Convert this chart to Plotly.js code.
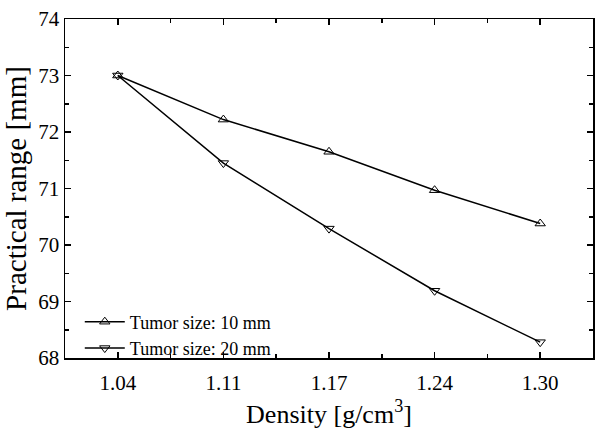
<!DOCTYPE html>
<html><head><meta charset="utf-8">
<script src="https://cdn.plot.ly/plotly-3.0.1.min.js"></script>
<style>html,body{margin:0;padding:0;background:#fff}#c{width:613px;height:435px}</style>
</head><body><div id="c"></div>
<script>
const densityLabels = ["1.04", "1.11", "1.17", "1.24", "1.30"];
const xIndex = [0, 1, 2, 3, 4];
const tumor10 = [73.0, 72.22, 71.65, 70.97, 70.38];
const tumor20 = [73.0, 71.45, 70.29, 69.19, 68.28];
const seriesNames = ["Tumor size: 10 mm", "Tumor size: 20 mm"];

const font = "Liberation Serif";
const traces = [
  {x: xIndex, y: tumor10, name: seriesNames[0], mode: "lines+markers", type: "scatter",
   line: {color: "#000", width: 1.5},
   marker: {symbol: "triangle-up-open", size: 9, color: "#000", line: {width: 1}}},
  {x: xIndex, y: tumor20, name: seriesNames[1], mode: "lines+markers", type: "scatter",
   line: {color: "#000", width: 1.5},
   marker: {symbol: "triangle-down-open", size: 9, color: "#000", line: {width: 1}}}
];
const axisCommon = {showline: true, linecolor: "#000", linewidth: 1.5, mirror: "allticks",
  ticks: "inside", ticklen: 6, tickwidth: 1.5, tickcolor: "#000", showgrid: false, zeroline: false,
  tickfont: {family: font, size: 21, color: "#000"}};
const layout = {
  width: 613, height: 435,
  font: {family: font, color: "#000"},
  margin: {l: 65, r: 20, t: 19, b: 77},
  paper_bgcolor: "#fff", plot_bgcolor: "#fff",
  showlegend: true,
  legend: {x: 0.028, y: -0.025, xanchor: "left", yanchor: "bottom", bgcolor: "rgba(0,0,0,0)",
    font: {family: font, size: 18, color: "#000"}, tracegroupgap: 0, itemwidth: 40},
  xaxis: Object.assign({}, axisCommon, {
    range: [-0.5, 4.5], tickmode: "array", tickvals: xIndex, ticktext: densityLabels,
    ticklabelstandoff: 5,
    minor: {tickmode: "array", tickvals: [-0.5, 0.5, 1.5, 2.5, 3.5], ticks: "inside", ticklen: 4, tickwidth: 1.5, tickcolor: "#000"},
    title: {text: "Density [g/cm<sup>3</sup>]", font: {family: font, size: 26, color: "#000"}, standoff: 11}
  }),
  yaxis: Object.assign({}, axisCommon, {
    range: [68, 74], tickmode: "linear", tick0: 68, dtick: 1,
    minor: {dtick: 0.5, ticks: "inside", ticklen: 4, tickwidth: 1.5, tickcolor: "#000"},
    title: {text: "Practical range [mm]", font: {family: font, size: 29, color: "#000"}, standoff: 3}
  })
};
Plotly.newPlot("c", traces, layout, {displayModeBar: false, staticPlot: true});
</script></body></html>
